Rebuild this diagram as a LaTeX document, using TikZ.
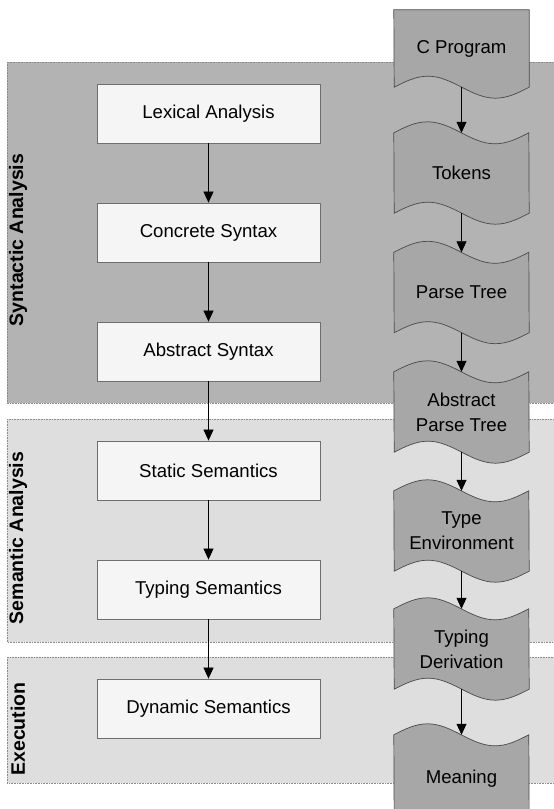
\documentclass[tikz,border=0pt]{standalone}
\usepackage{fontspec}
\setmainfont{Liberation Sans}
\usetikzlibrary{arrows.meta,calc}
\definecolor{synfill}{HTML}{B3B3B3}
\definecolor{semfill}{HTML}{DEDEDE}
\definecolor{boxfill}{HTML}{F5F5F5}
\definecolor{boxline}{HTML}{6E6E6E}
\definecolor{docfill}{HTML}{A7A7A7}
\definecolor{docline}{HTML}{4A4A4A}
\definecolor{panelline}{HTML}{8A8A8A}
\pgfdeclarelayer{panels}
\pgfdeclarelayer{docs}
\pgfsetlayers{panels,docs,main}
\begin{document}
\begin{tikzpicture}[x=1pt,y=-1pt,
  panel/.style={draw=panelline, densely dotted, line width=0.6pt},
  phaselabel/.style={rotate=90, inner sep=0pt, font=\bfseries\fontsize{19.5}{24}\selectfont},
  stagebox/.style={draw=boxline, fill=boxfill, line width=0.8pt, minimum width=223pt,
    minimum height=59pt, inner sep=0pt, font=\fontsize{18.6}{25}\selectfont},
  doctext/.style={minimum width=135pt, inner sep=0pt, align=center,
    font=\fontsize{18.6}{25}\selectfont},
  docedge/.style={draw=docline, fill=docfill, line width=0.7pt},
  flow/.style={draw=black, line width=0.7pt, -{Triangle[length=11pt,width=10pt]}}]
\useasboundingbox (0,0) rectangle (554,809);
\clip (0,0) rectangle (554,809);

% phase panels
\begin{pgfonlayer}{panels}
  \fill[white] (0,0) rectangle (554,809);
  \draw[panel, fill=synfill] (7,62) rectangle (570,403);
  \draw[panel, fill=semfill] (7,419) rectangle (570,642);
  \draw[panel, fill=semfill] (7,657) rectangle (570,783);
\end{pgfonlayer}

\node[phaselabel] (lsyn) at (18,240) {Syntactic Analysis};
\node[phaselabel] (lsem) at (18,538) {Semantic Analysis};
\node[phaselabel] (lexe) at (18,729) {Execution};

% definition stages
\node[stagebox] (lex)  at (208.5,113.5) {Lexical Analysis};
\node[stagebox] (conc) at (208.5,232.5) {Concrete Syntax};
\node[stagebox] (abs)  at (208.5,351.5) {Abstract Syntax};
\node[stagebox] (stat) at (208.5,470.5) {Static Semantics};
\node[stagebox] (typ)  at (208.5,589.5) {Typing Semantics};
\node[stagebox] (dyn)  at (208.5,708.5) {Dynamic Semantics};

% artefacts
\node[doctext, minimum height=77pt] (cprog) at (461.5,48.5) {C Program};
\node[doctext, minimum height=80pt] (tok)   at (461.5,173) {Tokens};
\node[doctext, minimum height=80pt] (parse) at (461.5,292.5) {Parse Tree};
\node[doctext, minimum height=80pt] (apt)   at (461.5,412) {Abstract\\Parse Tree};
\node[doctext, minimum height=80pt] (env)   at (461.5,531) {Type\\Environment};
\node[doctext, minimum height=80pt] (deriv) at (461.5,649) {Typing\\Derivation};
\node[doctext, minimum height=88pt] (mean)  at (461.5,779) {Meaning};

\begin{pgfonlayer}{docs}
  \draw[docedge] (cprog.north west) -- (cprog.north east) -- (cprog.south east)
    sin ++(-33.75,11) cos ++(-33.75,-11) sin ++(-33.75,-11) cos ++(-33.75,11) -- cycle;
  \foreach \n in {tok,parse,apt,env,deriv,mean}
    \draw[docedge] (\n.north west)
      sin ++(33.75,-11) cos ++(33.75,11) sin ++(33.75,11) cos ++(33.75,-11)
      -- (\n.south east)
      sin ++(-33.75,11) cos ++(-33.75,-11) sin ++(-33.75,-11) cos ++(-33.75,11)
      -- cycle;
\end{pgfonlayer}

% flow arrows
\draw[flow] (lex) -- (conc);
\draw[flow] (conc) -- (abs);
\draw[flow] (abs) -- (stat);
\draw[flow] (stat) -- (typ);
\draw[flow] (typ) -- (dyn);
\draw[flow] (cprog) -- (tok);
\draw[flow] (tok) -- (parse);
\draw[flow] (parse) -- (apt);
\draw[flow] (apt) -- (env);
\draw[flow] (env) -- (deriv);
\draw[flow] (deriv) -- (mean);
\end{tikzpicture}
\end{document}
